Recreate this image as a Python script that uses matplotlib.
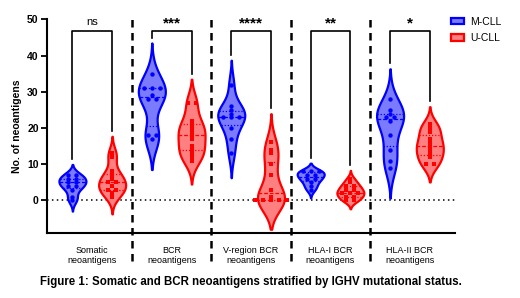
import numpy as np
import matplotlib
matplotlib.use("Agg")
import matplotlib.pyplot as plt
from matplotlib.patches import Patch
import matplotlib.transforms as mtransforms

plt.rcParams['font.family'] = ['Liberation Sans', 'DejaVu Sans']

categories = ["Somatic\nneoantigens", "BCR\nneoantigens", "V-region BCR\nneoantigens",
              "HLA-I BCR\nneoantigens", "HLA-II BCR\nneoantigens"]
series_names = ["M-CLL", "U-CLL"]

m_somatic = [7, 7, 6, 6, 5, 5, 4, 4, 3, 1, 0]
u_somatic = [13, 12, 8, 7, 6, 5, 5, 4, 3, 3, 2, 1]
m_bcr = [35, 31, 31, 31, 29, 28, 28, 18, 18, 17]
u_bcr = [27, 27, 22, 21, 20, 19, 18, 17, 15, 14, 13, 12, 11]
m_vregion = [32, 26, 25, 24, 23, 23, 23, 20, 17, 13]
u_vregion = [16, 14, 13, 10, 7, 3, 1, 0, 0, 0, 0, 0]
m_hla1 = [8, 8, 8, 7, 7, 6, 6, 5, 4, 3]
u_hla1 = [6, 5, 4, 4, 3, 3, 2, 2, 2, 1, 1, 0, 0]
m_hla2 = [28, 25, 24, 23, 23, 22, 18, 14, 11, 9]
u_hla2 = [21, 20, 19, 17, 16, 15, 14, 13, 12, 10, 10]

m_data = [m_somatic, m_bcr, m_vregion, m_hla1, m_hla2]
u_data = [u_somatic, u_bcr, u_vregion, u_hla1, u_hla2]
significance = ["ns", "***", "****", "**", "*"]
bracket_height = 46.7
yticks = [0, 10, 20, 30, 40, 50]

fig = plt.figure(figsize=(5.2, 2.98), dpi=100)
ax = fig.add_axes([0.0904, 0.218, 0.785, 0.717])

edge_cols = ["#0000ff", "#ff0000"]
fill_cols = ["#7b7bff", "#ff8080"]
markers = ["o", "s"]
offset = 0.25
half_w = 0.17


def kde_violin(x0, data, ec, fc, mk):
    d = np.asarray(data, float)
    n = len(d)
    sd = max(d.std(ddof=1), 0.8)
    h = 0.9 * sd * n ** (-0.2)
    grid = np.linspace(d.min() - 2.3 * h, d.max() + 2.3 * h, 300)
    dens = np.exp(-0.5 * ((grid[:, None] - d[None, :]) / h) ** 2).sum(axis=1)
    w = dens / dens.max() * half_w
    ax.fill_betweenx(grid, x0 - w, x0 + w, facecolor=fc, edgecolor=ec,
                     linewidth=1.6, zorder=2)
    for q, ls in [(50, (0, (3, 1.5))), (25, (0, (1, 1.5))), (75, (0, (1, 1.5)))]:
        yv = np.percentile(d, q)
        wv = np.interp(yv, grid, w)
        ax.plot([x0 - wv, x0 + wv], [yv, yv], color=ec, lw=0.9, ls=ls, zorder=3)
    xs, ys = [], []
    vals, counts = np.unique(d, return_counts=True)
    for v, c in zip(vals, counts):
        for i in range(c):
            xs.append(x0 + (i - (c - 1) / 2) * 0.1)
            ys.append(v)
    ax.scatter(xs, ys, marker=mk, s=10, color=ec, zorder=4, linewidths=0)
    return d.max() + 2.3 * h


for i in range(len(categories)):
    tops = []
    for j, data in enumerate([m_data[i], u_data[i]]):
        x0 = i + (-offset if j == 0 else offset)
        tops.append(kde_violin(x0, data, edge_cols[j], fill_cols[j], markers[j]))
    xl, xr = i - offset, i + offset
    ax.plot([xl, xl, xr, xr], [tops[0] + 1.5, bracket_height, bracket_height, tops[1] + 1.5],
            color="black", lw=1.2, zorder=3)
    if significance[i] == "ns":
        ax.text(i, bracket_height + 1.2, "ns", ha="center", va="bottom", fontsize=8)
    else:
        ax.text(i, bracket_height + 0.3, significance[i], ha="center", va="bottom",
                fontsize=11, fontweight="bold")

ax.axhline(0, color="black", lw=1.1, ls=(0, (1, 2.2)), zorder=1)

trans = mtransforms.blended_transform_factory(ax.transData, ax.transAxes)
for k in range(len(categories) - 1):
    ax.plot([k + 0.5, k + 0.5], [-0.13, 1.0], transform=trans, color="black",
            lw=1.8, ls=(0, (3, 2.2)), clip_on=False, zorder=1)

ax.set_xlim(-0.57, 4.57)
ax.set_ylim(-9, 50)
ax.set_yticks(yticks)
ax.set_yticklabels([str(t) for t in yticks], fontsize=7.5, fontweight="bold")
ax.set_xticks(range(len(categories)))
ax.set_xticklabels(categories, fontsize=6.5)
ax.tick_params(axis="x", length=0, pad=9)
ax.tick_params(axis="y", length=4, width=1.3, pad=2)
for s in ["top", "right"]:
    ax.spines[s].set_visible(False)
for s in ["left", "bottom"]:
    ax.spines[s].set_linewidth(1.5)
ax.set_ylabel("No. of neoantigens", fontsize=7.5, fontweight="bold", labelpad=4)

handles = [Patch(facecolor=fill_cols[j], edgecolor=edge_cols[j], linewidth=1.6, label=series_names[j])
           for j in range(2)]
fig.legend(handles=handles, loc="upper left", bbox_to_anchor=(0.85, 0.975), frameon=False,
           fontsize=7.5, handlelength=1.2, handleheight=0.6, handletextpad=0.6, labelspacing=0.6)

fig.text(0.483, 0.055, "Figure 1: Somatic and BCR neoantigens stratified by IGHV mutational status.",
         ha="center", va="center", fontsize=8.3, fontweight="bold")

fig.savefig("out.png", dpi=100)
